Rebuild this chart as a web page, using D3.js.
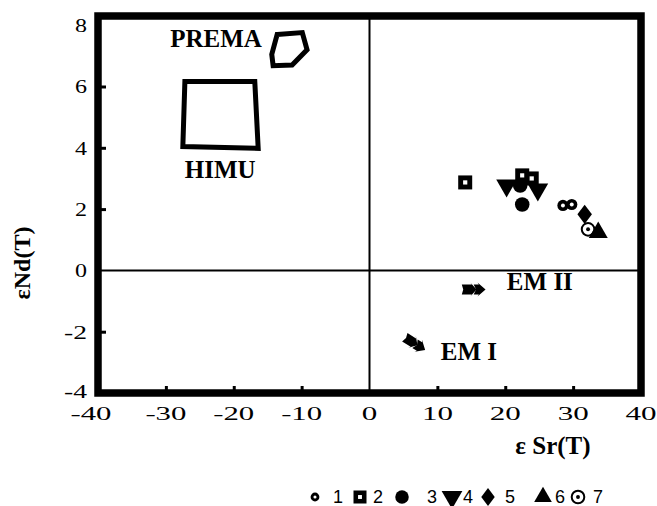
<!DOCTYPE html>
<html><head><meta charset="utf-8">
<script src="https://cdn.jsdelivr.net/npm/d3@7"></script>
<style>body{margin:0;background:#fff}svg{display:block}</style>
</head><body>
<svg id="c" width="657" height="506"></svg>
<script>
// ---- data ----
const xTicks = [-40,-30,-20,-10,0,10,20,30,40];
const yTicks = [-4,-2,0,2,4,6,8];
const series1 = [[28.5,2.12],[29.8,2.15]];           // ring
const series2 = [[14.1,2.87],[22.5,3.1],[23.9,3.0]];  // square
const series3 = [[22.2,2.77],[22.5,2.15]];           // filled circle
const series4 = [[20.2,2.77],[24.8,2.64]];           // down triangle
const series5 = [[31.7,1.83]];                       // diamond
const series6 = [[33.7,1.24]];                       // up triangle
const series7 = [[32.2,1.34]];                       // circle dot
const premaPoly = [[-13.6,7.7],[-9.9,7.76],[-9.2,7.2],[-11.4,6.7],[-14.2,6.68],[-14.4,7.05]];
const himuPoly = [[-27.2,6.16],[-16.9,6.16],[-16.4,3.98],[-27.5,4.04]];
const emII = [[13.6,-0.62],[17.1,-0.62]];
const emI = [[5.2,-2.18],[8.2,-2.6]];
const fieldLabels = [
  {t:"PREMA", x:-22.6, y:7.29},
  {t:"HIMU", x:-22.0, y:3.01},
  {t:"EM II", x:25.1, y:-0.64},
  {t:"EM I", x:14.65, y:-2.92}
];
const legendItems = ["1","2","3","4","5","6","7"];

// ---- chart ----
const svg = d3.select("#c");
const L=98, R=641, T=16, B=393;
const x = d3.scaleLinear().domain([-40,40]).range([L,R]);
const y = d3.scaleLinear().domain([-4,8.3]).range([B,T]);
const serif = "'Liberation Serif','Times New Roman',serif";

// quadrant lines
svg.append("line").attr("x1",x(0)).attr("x2",x(0)).attr("y1",T).attr("y2",B)
  .attr("stroke","#000").attr("stroke-width",2);
svg.append("line").attr("x1",L).attr("x2",R).attr("y1",y(0)).attr("y2",y(0))
  .attr("stroke","#000").attr("stroke-width",2);

// ticks (inward)
const xa = d3.axisTop(x).tickValues(xTicks.filter(v=>v>-40&&v<40&&v!==0)).tickSize(7).tickFormat("");
svg.append("g").attr("transform",`translate(0,${B})`).call(xa)
  .call(g=>g.select(".domain").remove())
  .call(g=>g.selectAll("line").attr("stroke-width",3));
const ya = d3.axisRight(y).tickValues(yTicks.filter(v=>v>-4&&v<8&&v!==0)).tickSize(8).tickFormat("");
svg.append("g").attr("transform",`translate(${L},0)`).call(ya)
  .call(g=>g.select(".domain").remove())
  .call(g=>g.selectAll("line").attr("stroke-width",3));

// tick labels (wide serif look)
const xw = d => String(d).replace("-","").length*15.5 + (d<0?10:0);
svg.append("g").selectAll("text").data(xTicks).join("text")
  .attr("x",d=>x(d)-(d===-40?7:0)-xw(d)/2).attr("y",B+27)
  .attr("textLength",xw).attr("lengthAdjust","spacingAndGlyphs")
  .attr("font-family",serif).attr("font-size",19).text(d=>d);
const yw = d => String(d).replace("-","").length*12 + (d<0?11:0);
svg.append("g").selectAll("text").data(yTicks).join("text")
  .attr("x",d=>L-11-yw(d)).attr("y",d=>y(d)+(d===-4?5:7))
  .attr("textLength",yw).attr("lengthAdjust","spacingAndGlyphs")
  .attr("font-family",serif).attr("font-size",19).text(d=>d);

// frame
svg.append("rect").attr("x",L).attr("y",T).attr("width",R-L).attr("height",B-T)
  .attr("fill","none").attr("stroke","#000").attr("stroke-width",7.5);

// axis titles
svg.append("text").attr("x",553).attr("y",454).attr("text-anchor","middle")
  .attr("font-family",serif).attr("font-size",25).attr("font-weight","bold")
  .text("ε Sr(T)");
svg.append("text").attr("transform","translate(30,263) rotate(-90)").attr("text-anchor","middle")
  .attr("font-family",serif).attr("font-size",24).attr("font-weight","bold")
  .text("εNd(T)");

// field polygons
const line = d3.line().x(d=>x(d[0])).y(d=>y(d[1])).curve(d3.curveLinearClosed);
[premaPoly, himuPoly].forEach(p=>{
  svg.append("path").attr("d",line(p)).attr("fill","none").attr("stroke","#000")
    .attr("stroke-width",5).attr("stroke-linejoin","miter");
});
svg.append("g").selectAll("text").data(fieldLabels).join("text")
  .attr("x",d=>x(d.x)).attr("y",d=>y(d.y)).attr("text-anchor","middle")
  .attr("font-family",serif).attr("font-size",25).attr("font-weight","bold").text(d=>d.t);

// EM arrows (chunky double chevrons)
[emII, emI].forEach(a=>{
  const x0=x(a[0][0]), y0=y(a[0][1]), x1=x(a[1][0]), y1=y(a[1][1]);
  const len=Math.hypot(x1-x0,y1-y0), ang=Math.atan2(y1-y0,x1-x0)*180/Math.PI;
  const g=svg.append("g").attr("transform",`translate(${x0},${y0}) rotate(${ang})`);
  const h=len;
  g.append("path").attr("fill","#000")
    .attr("d",`M0,-5 L${h*0.42},-5 L${h*0.36},-7 L${h*0.62},0 L${h*0.36},7 L${h*0.42},5 L0,5 L${h*0.06},0 Z`);
  g.append("path").attr("fill","#000")
    .attr("d",`M${h*0.5},-5 L${h*0.72},-5 L${h*0.66},-7 L${h},0 L${h*0.66},7 L${h*0.72},5 L${h*0.5},5 L${h*0.6},0 Z`);
});

// markers
function drawMarker(g, type, cx, cy, s){
  const gg = g.append("g").attr("transform",`translate(${cx},${cy})`);
  const sym = (t,size)=>d3.symbol().type(t).size(size)();
  if(type===1){
    gg.append("circle").attr("r",s*0.4).attr("fill","#000");
    gg.append("circle").attr("r",s*0.14).attr("fill","#fff");
  } else if(type===2){
    gg.append("rect").attr("x",-s/2).attr("y",-s/2).attr("width",s).attr("height",s).attr("fill","#000");
    gg.append("rect").attr("x",-s*0.15).attr("y",-s*0.15).attr("width",s*0.3).attr("height",s*0.3).attr("fill","#fff");
  } else if(type===3){
    gg.append("circle").attr("r",s*0.52).attr("fill","#000");
  } else if(type===4){
    gg.append("path").attr("d",sym(d3.symbolTriangle,s*s*0.95)).attr("transform","rotate(180)").attr("fill","#000");
  } else if(type===5){
    gg.append("path").attr("d",sym(d3.symbolDiamond,s*s*0.55)).attr("transform","scale(1.3,1)").attr("fill","#000");
  } else if(type===6){
    gg.append("path").attr("d",sym(d3.symbolTriangle,s*s*0.8)).attr("fill","#000");
  } else if(type===7){
    gg.append("circle").attr("r",s*0.45).attr("fill","#fff").attr("stroke","#000").attr("stroke-width",2);
    gg.append("circle").attr("r",s*0.14).attr("fill","#000");
  }
}
const pts = svg.append("g");
const allSeries = [series1,series2,series3,series4,series5,series6,series7];
[6,3,2,1,0,4,5].forEach(i=>{
  allSeries[i].forEach(p=>drawMarker(pts, i+1, x(p[0]), y(p[1]), 14));
});

// legend
const legX = [315,360,402,452,488,543,578];
const legNumX = [338,378,432,468,510,560,598];
const lg = svg.append("g");
legendItems.forEach((t,i)=>{
  const s = [11,13,13,14,13,13,14][i];
  drawMarker(lg, i+1, legX[i], 497, s);
  lg.append("text").attr("x",legNumX[i]).attr("y",503).attr("text-anchor","middle")
    .attr("font-family","'Liberation Sans',Arial,sans-serif").attr("font-size",18).text(t);
});
</script>
</body></html>
